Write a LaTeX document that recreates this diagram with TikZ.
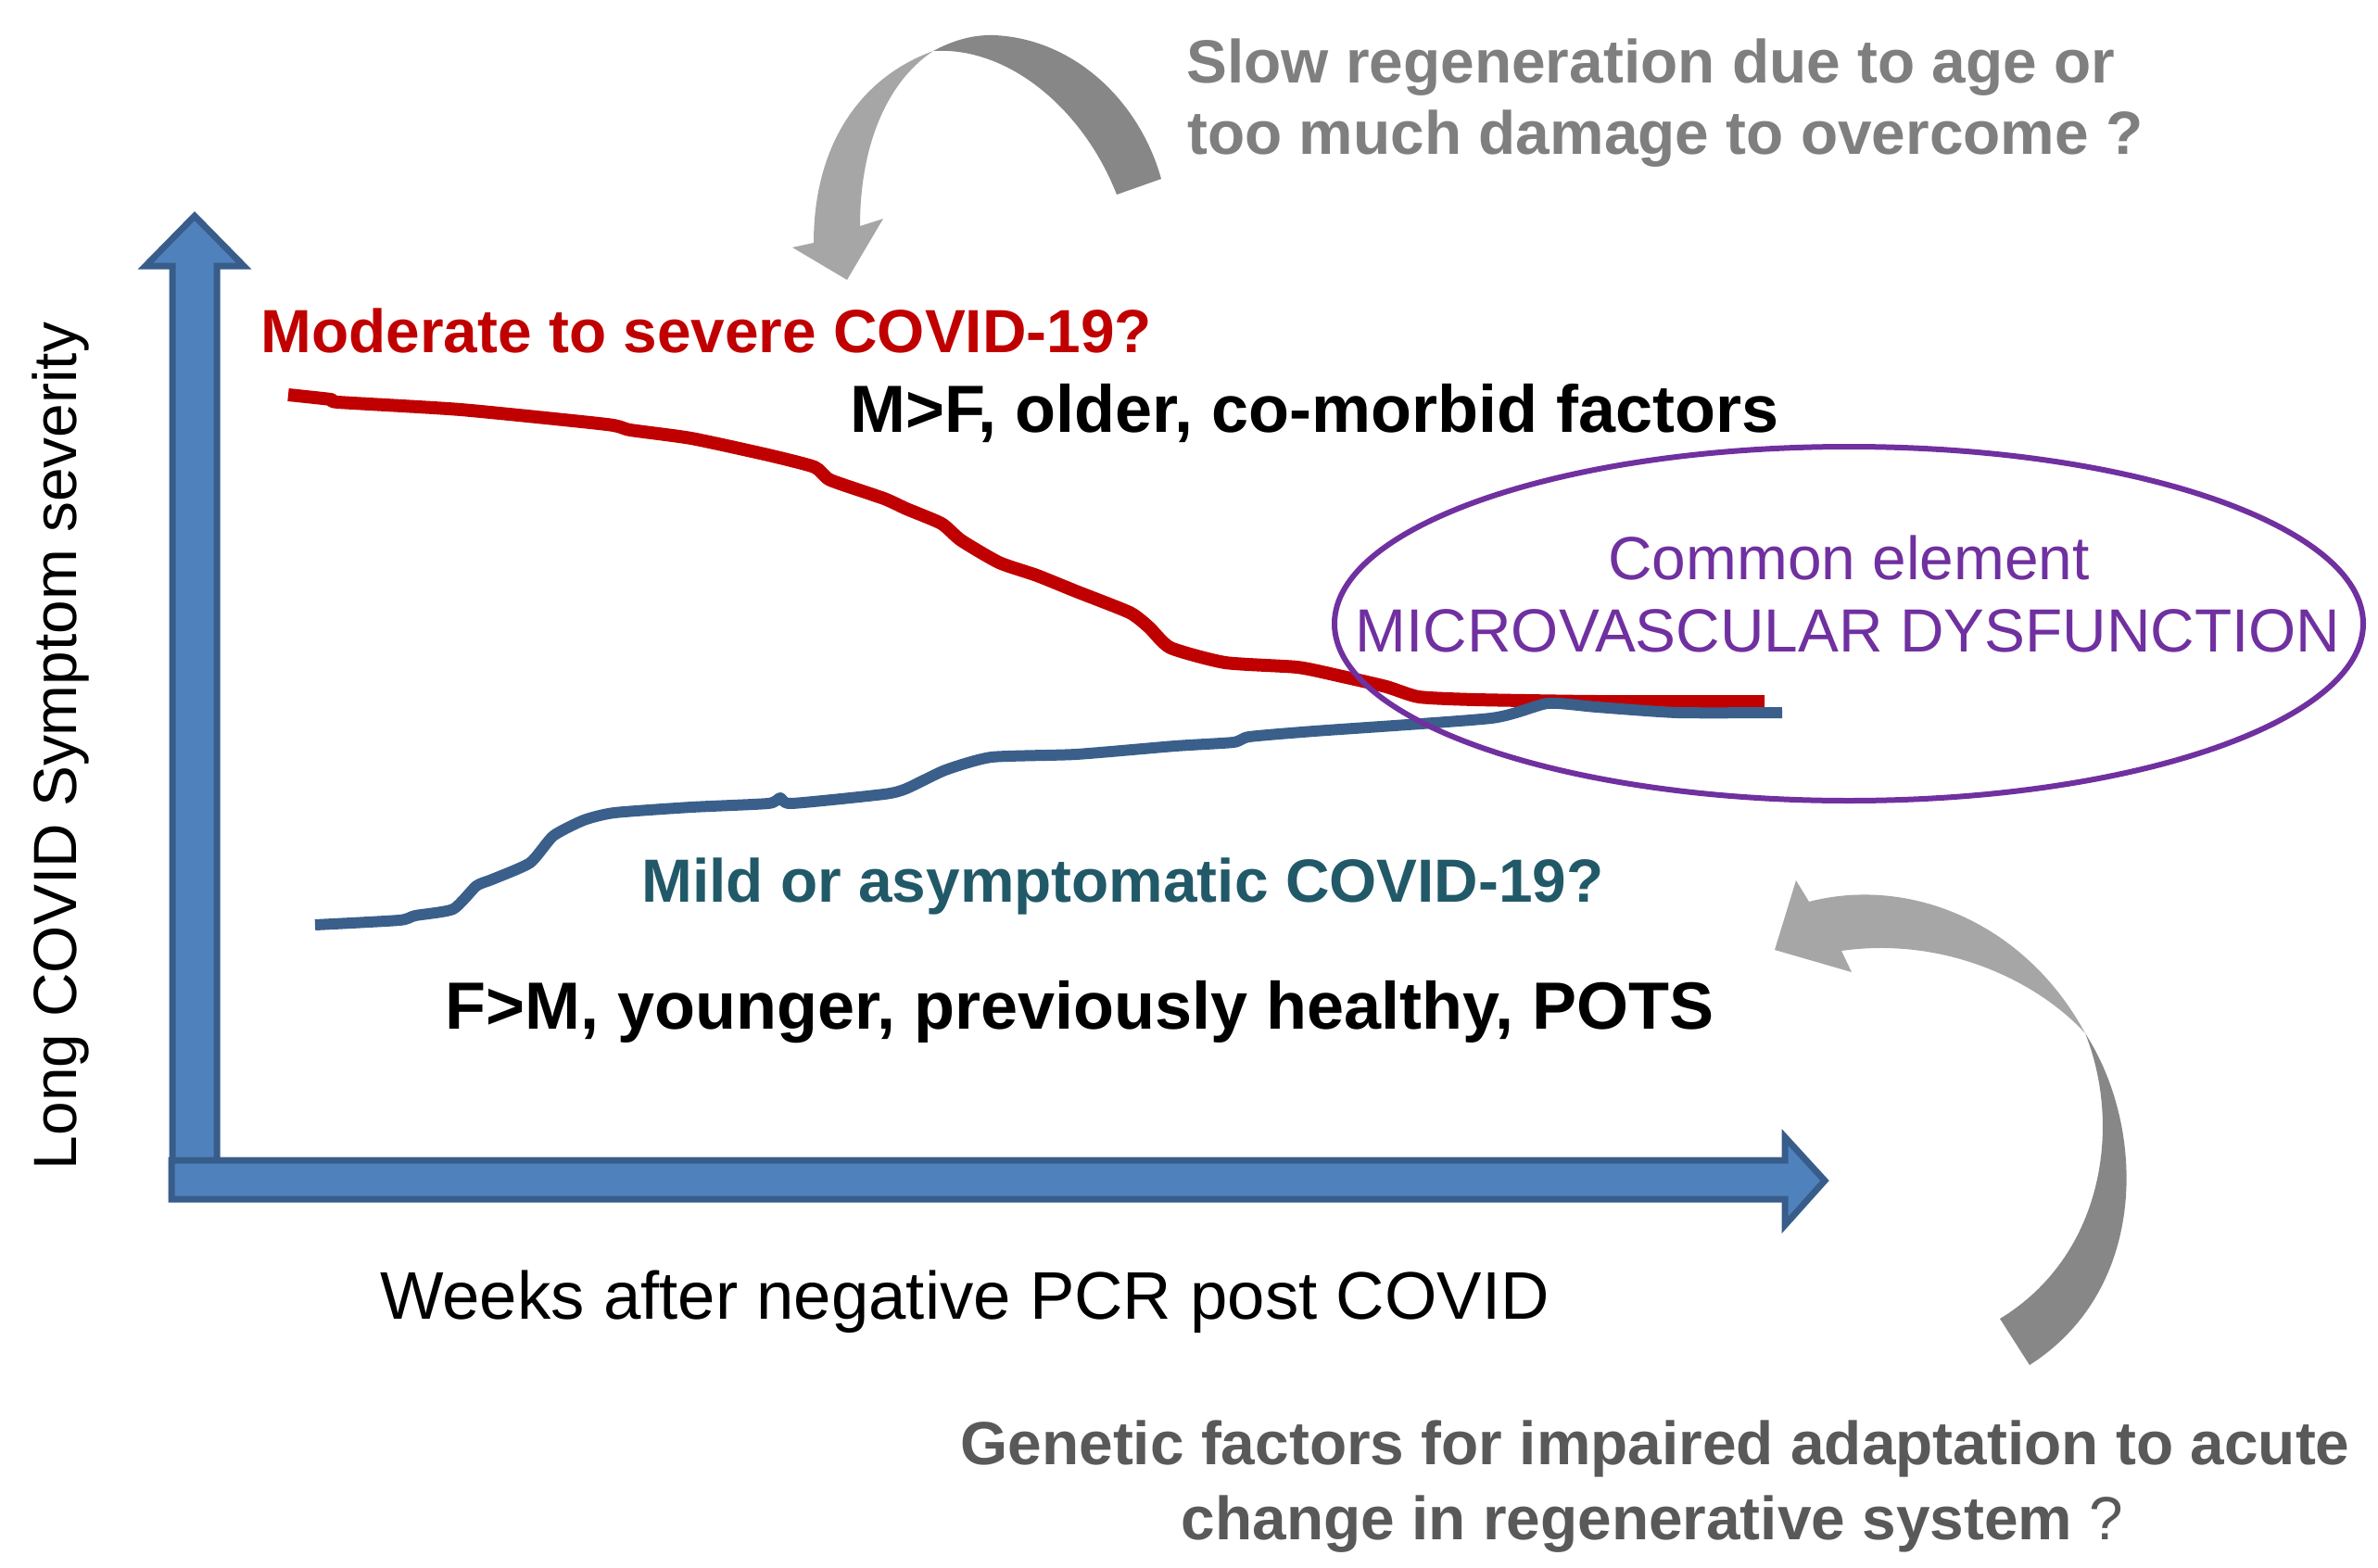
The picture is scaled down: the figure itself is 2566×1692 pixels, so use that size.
\documentclass[tikz,border=0pt]{standalone}
\usepackage{fontspec}
\setmainfont{Liberation Sans}
\usetikzlibrary{shapes.geometric}
\definecolor{axisfill}{HTML}{4F81BD}
\definecolor{axisline}{HTML}{385D8A}
\definecolor{sevred}{HTML}{C00000}
\definecolor{mildblue}{HTML}{3A5F8B}
\definecolor{mildtext}{HTML}{215968}
\definecolor{purp}{HTML}{7030A0}
\definecolor{gtxt}{HTML}{7F7F7F}
\definecolor{gtxtdark}{HTML}{595959}
\definecolor{glight}{HTML}{A6A6A6}
\definecolor{gdark}{HTML}{878787}
\newcommand\fszA{\fontsize{32.9pt}{38.5pt}\selectfont}
\newcommand\fszB{\fontsize{36pt}{42pt}\selectfont}
\newcommand\fszC{\fontsize{36.3pt}{42pt}\selectfont}
\tikzset{
  lbl/.style={inner sep=0pt, anchor=base west},
  clbl/.style={inner sep=0pt, anchor=base},
  axisarrow/.style={draw=axisline, fill=axisfill, line width=3.5pt},
  curvered/.style={sevred, line width=7pt, line join=round},
  curveblue/.style={mildblue, line width=6pt, line join=round},
}
\begin{document}
\begin{tikzpicture}[x=0.5pt,y=-0.5pt]
\useasboundingbox (0,0) rectangle (2566,1692);
% top curved gray arrow
\fill[gdark] (1253,193) .. controls (1230,110) and (1160,42) .. (1073,38)
  .. controls (1045,37) and (1022,47) .. (1007,55)
  .. controls (1090,50) and (1170,120) .. (1205,210) -- cycle;
\fill[glight] (1007,55) .. controls (925,85) and (878,160) .. (878,262)
  -- (855,267) -- (914,302) -- (953,236) -- (928,244)
  .. controls (928,160) and (955,90) .. (1007,55) -- cycle;
% bottom curved gray arrow
\fill[glight] (1952,973) .. controls (2060,945) and (2185,995) .. (2250,1115)
  .. controls (2200,1060) and (2100,1010) .. (1987,1026)
  -- (1998,1049) -- (1915,1025) -- (1938,950) -- cycle;
\fill[gdark] (2250,1115) .. controls (2315,1215) and (2320,1390) .. (2190,1473)
  -- (2158,1423) .. controls (2270,1355) and (2290,1215) .. (2250,1115) -- cycle;
% axes
\draw[axisarrow] (186,1262) -- (186,287) -- (157,287) -- (210,233) -- (263,287)
  -- (234,287) -- (234,1262) -- cycle;
\draw[axisarrow] (185,1252) -- (1926,1252) -- (1926,1227) -- (1969,1274)
  -- (1926,1322) -- (1926,1294) -- (185,1294) -- cycle;
% curves
\draw[curvered] plot[smooth, tension=0.35] coordinates {
  (311,426) (357,431) (365,434) (497,442) (655,458) (680,464) (746,473)
  (829,491) (879,504) (896,518) (954,538) (978,549) (1016,565) (1037,583)
  (1078,607) (1119,621) (1161,638) (1219,661) (1240,677) (1263,699)
  (1322,715) (1400,720) (1444,729) (1496,741) (1531,752) (1592,755)
  (1723,757) (1904,757)};
\draw[curveblue] plot[smooth, tension=0.35] coordinates {
  (340,998) (431,993) (448,988) (489,981) (514,956) (531,949) (572,931)
  (597,902) (630,885) (663,877) (746,871) (829,867) (842,861) (854,867)
  (954,857) (978,851) (1020,831) (1070,817) (1161,814) (1268,805)
  (1331,801) (1348,795) (1418,789) (1609,775) (1670,759) (1723,763)
  (1810,769) (1923,769)};
% ellipse
\node[draw=purp, line width=3pt, ellipse, minimum width=555pt, minimum height=191pt, inner sep=0pt] (ring) at (1995,673) {};
% texts
\node[lbl, text=sevred, font=\fszA\bfseries] (sev) at (281,380) {Moderate to severe COVID-19?};
\node[lbl, font=\fszB\bfseries] (mf) at (917,466) {M>F, older, co-morbid factors};
\node[lbl, text=gtxt, font=\fszA\bfseries] (slowA) at (1280,89) {Slow regeneration due to age or};
\node[lbl, text=gtxt, font=\fszA\bfseries] (slowB) at (1281,166) {too much damage to overcome ?};
\node[clbl, text=purp, font=\fszA] (ceA) at (1995,625) {Common element};
\node[clbl, text=purp, font=\fszA] (ceB) at (1994,703) {MICROVASCULAR DYSFUNCTION};
\node[lbl, text=mildtext, font=\fszA\bfseries] (mild) at (692,973) {Mild or asymptomatic COVID-19?};
\node[lbl, font=\fszB\bfseries] (fm) at (480,1110) {F>M, younger, previously healthy, POTS};
\node[lbl, font=\fszC] (xlab) at (410,1423) {Weeks after negative PCR post COVID};
\node[clbl, rotate=90, font=\fszA] (ylab) at (83,805) {Long COVID Symptom severity};
\node[clbl, text=gtxtdark, font=\fszA\bfseries] (genA) at (1786,1580) {Genetic factors for impaired adaptation to acute};
\node[clbl, text=gtxtdark, font=\fszA\bfseries] (genB) at (1783,1661) {change in regenerative system {\mdseries ?}};
\end{tikzpicture}
\end{document}
